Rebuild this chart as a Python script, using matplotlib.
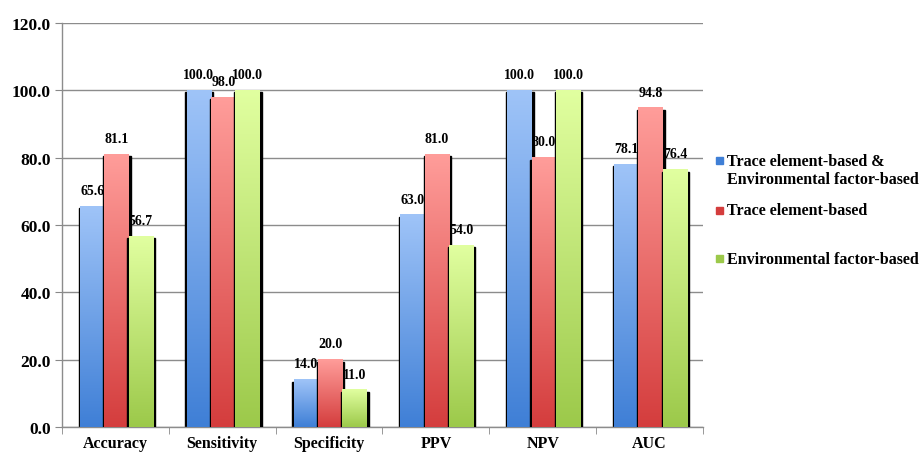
import numpy as np
import matplotlib.pyplot as plt
from matplotlib.colors import LinearSegmentedColormap
from matplotlib.patches import Rectangle

plt.rcParams['font.family'] = ['Liberation Serif', 'DejaVu Serif']

categories = ["Accuracy", "Sensitivity", "Specificity", "PPV", "NPV", "AUC"]
combined = [65.6, 100.0, 14.0, 63.0, 100.0, 78.1]
trace = [81.1, 98.0, 20.0, 81.0, 80.0, 94.8]
environ = [56.7, 100.0, 11.0, 54.0, 100.0, 76.4]
series_names = ["Trace element-based &\nEnvironmental factor-based",
                "Trace element-based",
                "Environmental factor-based"]
yticks = [0, 20, 40, 60, 80, 100, 120]

# top colour, bottom colour for each series
grads = [("#9fc4f8", "#3f7fd6"),
         ("#ff9d9a", "#d43d3d"),
         ("#e1ffa0", "#9cc94a")]

fig = plt.figure(figsize=(9.22, 4.56), dpi=100)
ax = fig.add_axes([0.0672, 0.0614, 0.6953, 0.8856])

w = 0.228
x = np.arange(len(categories))
grad = np.linspace(1, 0, 256).reshape(-1, 1)

for i, (vals, (ctop, cbot)) in enumerate(zip([combined, trace, environ], grads)):
    cmap = LinearSegmentedColormap.from_list("g%d" % i, [cbot, ctop])
    for xc, v in zip(x, vals):
        x0 = xc + 0.01 + (i - 1) * w - w / 2
        # dark shadow behind the bar
        ax.add_patch(Rectangle((x0 - 0.012, 0), w + 0.03, v - 0.6,
                               color="black", zorder=2 + i * 2))
        ax.imshow(grad, extent=[x0, x0 + w, 0, v], aspect="auto",
                  cmap=cmap, vmin=0, vmax=1, zorder=3 + i * 2,
                  interpolation="bicubic")
        ax.annotate("%.1f" % v, (x0 + w / 2, v), xytext=(0, 11.5),
                    textcoords="offset points", ha="center", va="center",
                    fontsize=10, fontweight="bold", zorder=10)

ax.set_xlim(-0.5, len(categories) - 0.5)
ax.set_ylim(0, 120)
ax.set_yticks(yticks)
ax.set_yticklabels(["%.1f" % t for t in yticks], fontsize=12.5, fontweight="bold")
ax.set_xticks(x)
ax.set_xticklabels(categories, fontsize=11.5, fontweight="bold")
ax.set_xticks(np.arange(len(categories) + 1) - 0.5, minor=True)
ax.tick_params(axis="x", which="major", length=0, pad=6)
ax.tick_params(axis="x", which="minor", length=5, color="#888888")
ax.tick_params(axis="y", length=5, color="#888888", pad=3)
ax.grid(axis="y", color="#8c8c8c", linewidth=1.0, zorder=0)
ax.set_axisbelow(True)
for s in ["top", "right"]:
    ax.spines[s].set_visible(False)
for s in ["left", "bottom"]:
    ax.spines[s].set_color("#8c8c8c")
    ax.spines[s].set_linewidth(1.0)

# legend drawn on the figure
leg_y = [161, 211, 259]
txt_y = [171, 211, 260]
for (ctop, cbot), ym, yt, name in zip(grads, leg_y, txt_y, series_names):
    fig.patches.append(Rectangle((716 / 922, 1 - (ym + 3.5) / 456), 7 / 922, 7 / 456,
                                 transform=fig.transFigure, color=cbot, figure=fig))
    fig.text(727 / 922, 1 - yt / 456, name, fontsize=11.5, fontweight="bold",
             va="center", ha="left", linespacing=1.1)

fig.savefig("out.png", dpi=100)
